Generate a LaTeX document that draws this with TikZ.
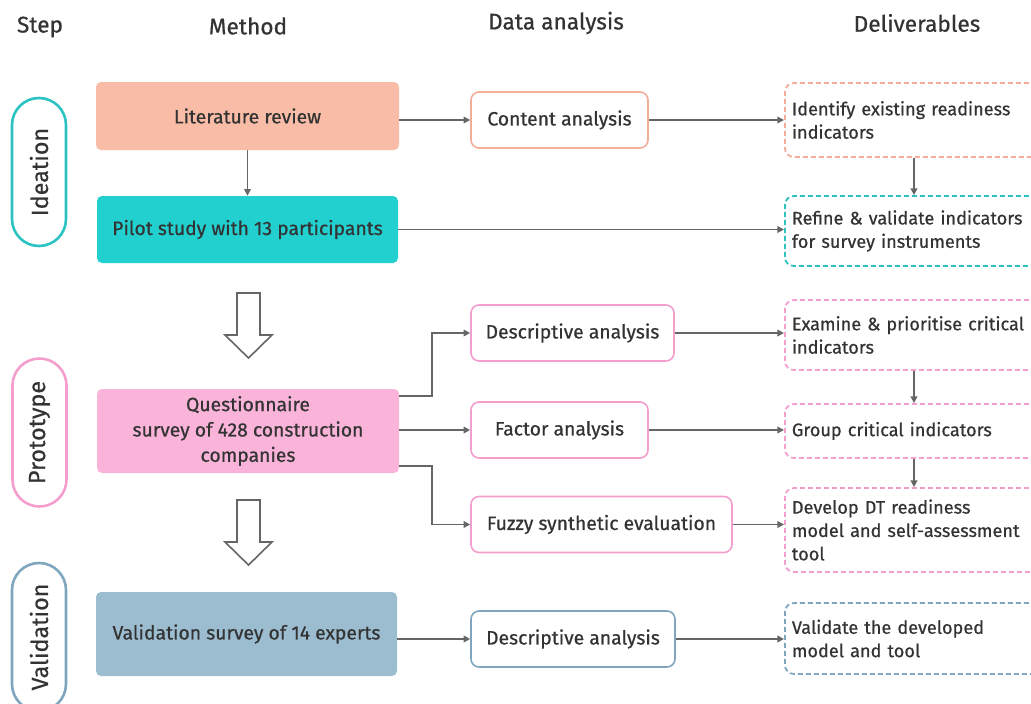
\documentclass[tikz,border=0pt]{standalone}
\usepackage{fontspec}
\setmainfont{Fira Sans}[FakeBold=0.6]
\usetikzlibrary{arrows.meta}
\newlength\pxl
\setlength\pxl{0.75pt}
\definecolor{txt}{HTML}{333333}
\definecolor{arr}{HTML}{666666}
\definecolor{salfill}{HTML}{F9BDA7}
\definecolor{salline}{HTML}{F2AE98}
\definecolor{cyfill}{HTML}{22D0D0}
\definecolor{cyline}{HTML}{2CC2C2}
\definecolor{pkfill}{HTML}{FAB4DA}
\definecolor{pkline}{HTML}{F49ECD}
\definecolor{blfill}{HTML}{9CBDD0}
\definecolor{blline}{HTML}{7FA6BE}
\tikzset{
  hdr/.style={font=\fontsize{17}{19}\selectfont, text=txt},
  pill/.style={draw=#1, line width=2.6\pxl, rounded corners=27\pxl, minimum width=148\pxl, minimum height=54\pxl, rotate=90, font=\fontsize{17.5}{19}\selectfont, text=txt},
  mbox/.style={fill=#1, draw=none, rounded corners=5\pxl, font=\fontsize{14.5}{19}\selectfont, text=txt, align=center, inner sep=0pt},
  abox/.style={fill=white, draw=#1, line width=1.6\pxl, rounded corners=8\pxl, font=\fontsize{14.5}{19}\selectfont, text=txt, align=center, inner sep=0pt, minimum height=56\pxl},
  dbox/.style={draw=#1, dashed, dash pattern=on 3.75pt off 2.25pt, line width=1.8\pxl, rounded corners=9\pxl, font=\fontsize{13.6}{17.5}\selectfont, text=txt, align=left, text width=247\pxl, inner sep=7\pxl, minimum width=261\pxl},
  conn/.style={draw=arr, line width=1.6\pxl, -{Triangle[length=5pt,width=5pt]}},
  blockarr/.style={draw=arr, line width=1.6\pxl, fill=white, line join=miter}
}
\begin{document}
\begin{tikzpicture}[x=0.75pt,y=-0.75pt]
\useasboundingbox (0,0) rectangle (1031,703);
\clip (0,0) rectangle (1031,703);
% headers
\node[hdr] (hstep) at (40,27) {Step};
\node[hdr] (hmeth) at (248,26) {Method};
\node[hdr] (hdata) at (556,23) {Data analysis};
\node[hdr] (hdel) at (917,23) {Deliverables};
% step pills
\node[pill=cyline] (ideation) at (39,172) {Ideation};
\node[pill=pkline] (prototype) at (39.5,432.5) {Prototype};
\node[pill=blline] (validation) at (39,637) {Validation};
% method boxes
\node[mbox=salfill, minimum width=303\pxl, minimum height=68\pxl] (lit) at (247.5,116) {Literature review};
\node[mbox=cyfill, minimum width=301\pxl, minimum height=67\pxl] (pilot) at (247.5,229.5) {Pilot study with 13 participants};
\node[mbox=pkfill, minimum width=302\pxl, minimum height=84\pxl] (quest) at (248,431) {Questionnaire\\survey of 428 construction\\companies};
\node[mbox=blfill, minimum width=301\pxl, minimum height=84\pxl] (vsurv) at (246.5,634) {Validation survey of 14 experts};
% data analysis boxes
\node[abox=salline, minimum width=177\pxl] (content) at (559.5,120) {Content analysis};
\node[abox=pkline, minimum width=203\pxl] (desc1) at (572.5,333) {Descriptive analysis};
\node[abox=pkline, minimum width=177\pxl] (factor) at (559.5,430) {Factor analysis};
\node[abox=pkline, minimum width=261\pxl] (fuzzy) at (601.5,524.5) {Fuzzy synthetic evaluation};
\node[abox=blline, minimum width=204\pxl] (desc2) at (573,639) {Descriptive analysis};
% deliverables
\node[dbox=salline, minimum height=74\pxl, anchor=west] (ident) at (784,120) {Identify existing readiness\\indicators};
\node[dbox=cyline, minimum height=70\pxl, anchor=west] (refine) at (784,231) {Refine \& validate indicators\\for survey instruments};
\node[dbox=pkline, minimum height=70\pxl, anchor=west] (exam) at (784,335) {Examine \& prioritise critical\\indicators};
\node[dbox=pkline, minimum height=54\pxl, anchor=west] (group) at (784,431) {Group critical indicators};
\node[dbox=pkline, minimum height=84\pxl, anchor=west] (develop) at (784,530) {Develop DT readiness\\model and self-assessment\\tool};
\node[dbox=blline, minimum height=71\pxl, anchor=west] (valid) at (784,638.5) {Validate the developed\\model and tool};
% connectors
\draw[conn] (lit.east |- content.west) -- (content.west);
\draw[conn] (content.east) -- (ident.west |- content.east);
\draw[conn] (lit.south) -- (pilot.north);
\draw[conn] (pilot.east) -- (refine.west |- pilot.east);
\draw[conn] (ident.south -| 914,0) -- (refine.north -| 914,0);
\coordinate (q1) at (399,396);
\coordinate (q3) at (399,466);
\draw[conn] (q1) -| (432,333) -- (desc1.west);
\draw[conn] (quest.east |- factor.west) -- (factor.west);
\draw[conn] (q3) -| (432,524.5) -- (fuzzy.west);
\draw[conn] (desc1.east) -- (exam.west |- desc1.east);
\draw[conn] (factor.east) -- (group.west |- factor.east);
\draw[conn] (fuzzy.east) -- (develop.west |- fuzzy.east);
\draw[conn] (exam.south -| 914,0) -- (group.north -| 914,0);
\draw[conn] (group.south -| 914,0) -- (develop.north -| 914,0);
\draw[conn] (vsurv.east |- desc2.west) -- (desc2.west);
\draw[conn] (desc2.east) -- (valid.west |- desc2.east);
% hollow block arrows
\draw[blockarr] (237,293) -- (260,293) -- (260,335) -- (272,335) -- (248.5,358) -- (225,335) -- (237,335) -- cycle;
\draw[blockarr] (237,500) -- (260,500) -- (260,542) -- (272,542) -- (248.5,565) -- (225,542) -- (237,542) -- cycle;
\end{tikzpicture}
\end{document}
